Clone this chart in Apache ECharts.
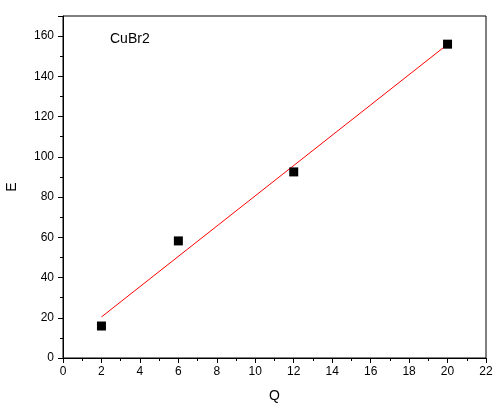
<!DOCTYPE html>
<html>
<head>
<meta charset="utf-8">
<script src="https://cdn.jsdelivr.net/npm/echarts@6/dist/echarts.min.js"></script>
<style>
  html, body { margin: 0; padding: 0; background: #fff; }
  #chart { width: 496px; height: 407px; }
</style>
</head>
<body>
<div id="chart"></div>
<script>
// measured points
var qValues = [2, 6, 12, 20];
var eValues = [15.9, 58.2, 92.5, 156];
// linear fit line endpoints
var fitQ = [2, 20];
var fitE = [20.4, 155.9];

var chart = echarts.init(document.getElementById('chart'));
var font = 'Liberation Sans, Arial, sans-serif';

var option = {
  animation: false,
  grid: {
    left: 63, top: 16, right: 10, bottom: 49,
    outerBoundsMode: 'none',
    containLabel: false,
    show: true, borderColor: '#000', borderWidth: 1
  },
  xAxis: {
    type: 'value',
    min: 0, max: 22, interval: 2,
    name: 'Q',
    nameLocation: 'middle',
    nameGap: 31,
    nameTextStyle: { fontFamily: font, fontSize: 14, color: '#000' },
    axisLine: { lineStyle: { color: '#000', width: 1 } },
    axisTick: { show: true, length: 5, lineStyle: { color: '#000' } },
    minorTick: { show: true, splitNumber: 2, length: 3, lineStyle: { color: '#000' } },
    splitLine: { show: false },
    axisLabel: { fontFamily: font, fontSize: 12, color: '#000', margin: 8 }
  },
  yAxis: {
    type: 'value',
    min: 0, max: 170, interval: 20,
    name: 'E',
    nameLocation: 'middle',
    nameGap: 44,
    nameTextStyle: { fontFamily: font, fontSize: 14, color: '#000' },
    axisLine: { lineStyle: { color: '#000', width: 1 } },
    axisTick: { show: true, length: 5, lineStyle: { color: '#000' } },
    minorTick: { show: true, splitNumber: 2, length: 3, lineStyle: { color: '#000' } },
    splitLine: { show: false },
    axisLabel: { fontFamily: font, fontSize: 12, color: '#000', margin: 9, showMaxLabel: false }
  },
  graphic: [{
    type: 'text',
    left: 110, top: 32,
    style: { text: 'CuBr2', font: '14px ' + font, fill: '#000' }
  }],
  series: [
    {
      type: 'line',
      data: fitQ.map(function (q, i) { return [q, fitE[i]]; }),
      symbol: 'none',
      lineStyle: { color: '#ff0000', width: 1 },
      z: 2
    },
    {
      type: 'scatter',
      data: qValues.map(function (q, i) { return [q, eValues[i]]; }),
      symbol: 'rect',
      symbolSize: 9,
      itemStyle: { color: '#000', opacity: 1 },
      z: 3
    }
  ]
};

chart.setOption(option);
</script>
</body>
</html>
